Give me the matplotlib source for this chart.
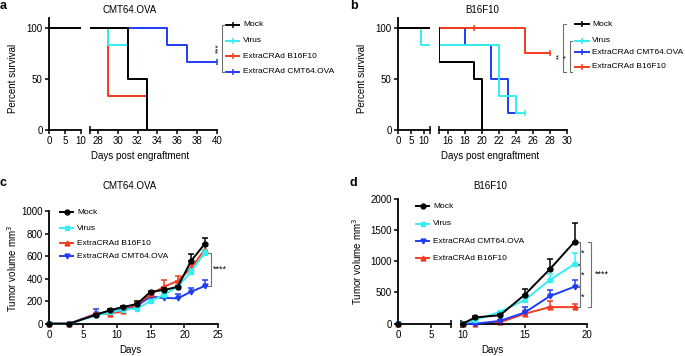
import numpy as np
import matplotlib
matplotlib.use("Agg")
import matplotlib.pyplot as plt

plt.rcParams["font.family"] = ["Liberation Sans", "DejaVu Sans"]
plt.rcParams["font.size"] = 7

W, H = 685, 356

BLACK = "#000000"
CYAN = "#33eef2"
RED = "#f53a1f"
BLUE = "#1f3cf5"
GRAY = "#707070"

# --- a: survival CMT64.OVA (step times, survival %) ---
a_mock_t = [0, 31, 33]
a_mock_s = [100, 50, 0]
a_mock_end = 33
a_virus_t = [0, 29, 31, 33]
a_virus_s = [100, 83.3, 50, 0]
a_virus_end = 33
a_b16_t = [0, 29, 33]
a_b16_s = [100, 33.3, 0]
a_b16_end = 33
a_cmt_t = [0, 35, 37]
a_cmt_s = [100, 83.3, 66.7]
a_cmt_end = 40

# --- b: survival B16F10 ---
b_mock_t = [0, 15, 19, 20]
b_mock_s = [100, 66.7, 50, 0]
b_mock_end = 20
b_virus_t = [0, 9, 22, 24]
b_virus_s = [100, 83.3, 33.3, 16.7]
b_virus_end = 25
b_cmt_t = [0, 18, 21, 23]
b_cmt_s = [100, 83.3, 50, 16.7]
b_cmt_end = 24
b_b16_t = [0, 25]
b_b16_s = [100, 75]
b_b16_end = 28
b_b16_censor = [19, 28]

# --- c: tumour volume CMT64.OVA ---
days_c = [0, 3, 7, 9, 11, 13, 15, 17, 19, 21, 23]
mock_c = [0, 0, 80, 120, 150, 175, 285, 300, 328, 560, 710]
mock_c_err = [0, 0, 10, 10, 10, 30, 10, 15, 10, 60, 55]
virus_c = [0, 0, 75, 100, 125, 135, 200, 258, 330, 463, 632]
virus_c_err = [0, 0, 10, 10, 10, 10, 15, 15, 15, 20, 20]
b16_c = [0, 0, 85, 90, 110, 170, 260, 330, 380, 495, 660]
b16_c_err = [0, 0, 10, 15, 20, 15, 20, 60, 45, 35, 50]
cmt_c = [0, 0, 90, 105, 130, 160, 240, 230, 225, 285, 335]
cmt_c_err = [0, 0, 38, 10, 10, 15, 15, 15, 40, 30, 55]

# --- d: tumour volume B16F10 ---
days_d = [0, 10, 11, 13, 15, 17, 19]
mock_d = [0, 0, 100, 135, 465, 870, 1310]
mock_d_err = [0, 0, 20, 20, 90, 170, 295]
virus_d = [0, 0, 60, 190, 380, 700, 955]
virus_d_err = [0, 0, 15, 20, 40, 90, 180]
cmt_d = [0, 0, 0, 45, 180, 440, 592]
cmt_d_err = [0, 0, 0, 15, 80, 100, 115]
b16_d = [0, 0, 0, 22, 160, 265, 265]
b16_d_err = [0, 0, 0, 10, 50, 95, 50]

fig = plt.figure(figsize=(W / 100, H / 100), dpi=100)


def px_axes(left, right, top, bottom):
    return fig.add_axes([left / W, 1 - bottom / H, (right - left) / W, (bottom - top) / H])


def style(ax, left_spine=True):
    for s in ["top", "right"]:
        ax.spines[s].set_visible(False)
    ax.spines["bottom"].set_linewidth(1.3)
    ax.spines["left"].set_linewidth(1.3)
    ax.tick_params(width=1.1, length=3, labelsize=7, pad=1.5)
    if not left_spine:
        ax.spines["left"].set_visible(False)
        ax.tick_params(axis="y", left=False, labelleft=False)
    ax.patch.set_alpha(0)


def breaks(ax, where):
    ax.set_xticks(where, minor=True)
    ax.tick_params(axis="x", which="minor", direction="inout", length=6, width=1.1)


def step_value(t, s, x):
    i = np.searchsorted(t, x, side="right") - 1
    return s[max(i, 0)]


def km(ax, t, s, end, color, z, censor=None):
    x = list(t) + [end]
    y = list(s) + [s[-1]]
    ax.step(x, y, where="post", color=color, lw=1.4, zorder=z)
    if censor is not None:
        ax.plot(censor, [step_value(t, s, c) for c in censor],
                ls="none", marker="|", ms=4, mew=1.1, color=color, zorder=z)


# overlay for text, legends
ov = fig.add_axes([0, 0, 1, 1])
ov.set_xlim(0, W)
ov.set_ylim(H, 0)
ov.axis("off")


def legend(x0, rows, entries, marker_kind):
    for y, (label, color, mk) in zip(rows, entries):
        ov.plot([x0, x0 + 13.5], [y, y], color=color, lw=1.4)
        if marker_kind == "tick":
            ov.plot([x0 + 6.75], [y], marker="|", ms=4, mew=1.1, color=color)
        else:
            ov.plot([x0 + 6.75], [y], marker=mk, ms=3.5, color=color)
        ov.text(x0 + 17, y, label, va="center", ha="left", fontsize=6.0)


# ---------------- panel a ----------------
a1 = px_axes(49, 81, 17.5, 129.7)
a2 = px_axes(90, 216.7, 17.5, 129.7)
for ax in (a1, a2):
    km(ax, a_cmt_t, a_cmt_s, a_cmt_end, BLUE, 2, censor=[40])
    km(ax, a_b16_t, a_b16_s, a_b16_end, RED, 3)
    km(ax, a_virus_t, a_virus_s, a_virus_end, CYAN, 4)
    km(ax, a_mock_t, a_mock_s, a_mock_end, BLACK, 5)
    ax.set_ylim(0, 110)
a1.set_xlim(0, 10)
a1.set_xticks([0, 5, 10])
a1.set_yticks([0, 50, 100])
breaks(a1, [10])
style(a1)
a2.set_xlim(27.2, 40)
a2.set_xticks(range(28, 41, 2))
breaks(a2, [27.2])
style(a2, left_spine=False)

ov.text(0, 6, "a", fontsize=9, fontweight="bold", va="center", ha="left")
ov.text(130, 10, "CMT64.OVA", ha="center", va="center", fontsize=7)
ov.text(13, 78, "Percent survival", rotation=90, ha="center", va="center", fontsize=7)
ov.text(140, 156, "Days post engraftment", ha="center", va="center", fontsize=7)
legend(226, [24.7, 41, 56, 71.5],
       [("Mock", BLACK, None), ("Virus", CYAN, None),
        ("ExtraCRAd B16F10", RED, None), ("ExtraCRAd CMT64.OVA", BLUE, None)], "tick")
ov.plot([225.5, 222.3, 222.3, 225.5], [24.7, 24.7, 71.5, 71.5], color=GRAY, lw=0.8)
ov.text(218.8, 48, "***", rotation=90, ha="center", va="center", fontsize=6)

# ---------------- panel b ----------------
b1 = px_axes(398, 430.1, 17.5, 129.7)
b2 = px_axes(439.05, 567.3, 17.5, 129.7)
for ax in (b1, b2):
    km(ax, b_cmt_t, b_cmt_s, b_cmt_end, BLUE, 2)
    km(ax, b_virus_t, b_virus_s, b_virus_end, CYAN, 3, censor=[25])
    km(ax, b_b16_t, b_b16_s, b_b16_end, RED, 4, censor=b_b16_censor)
    km(ax, b_mock_t, b_mock_s, b_mock_end, BLACK, 5)
    ax.set_ylim(0, 110)
b1.set_xlim(0, 12.5)
b1.set_xticks([0, 5, 10])
b1.set_yticks([0, 50, 100])
breaks(b1, [12.5])
style(b1)
b2.set_xlim(14.95, 30)
b2.set_xticks(range(16, 31, 2))
breaks(b2, [14.95])
style(b2, left_spine=False)

ov.text(350, 6, "b", fontsize=9, fontweight="bold", va="center", ha="left")
ov.text(482, 10, "B16F10", ha="center", va="center", fontsize=7)
ov.text(362, 78, "Percent survival", rotation=90, ha="center", va="center", fontsize=7)
ov.text(490, 156, "Days post engraftment", ha="center", va="center", fontsize=7)
legend(575.3, [24.3, 41, 52.3, 66.7],
       [("Mock", BLACK, None), ("Virus", CYAN, None),
        ("ExtraCRAd CMT64.OVA", BLUE, None), ("ExtraCRAd B16F10", RED, None)], "tick")
ov.plot([566, 563, 563, 566], [24.3, 24.3, 71.5, 71.5], color=GRAY, lw=0.8)
ov.plot([572.5, 569.7, 569.7, 572.5], [41, 41, 71.5, 71.5], color=GRAY, lw=0.8)
ov.text(560, 56, "**", rotation=90, ha="center", va="center", fontsize=5.5)
ov.text(567, 56, "*", rotation=90, ha="center", va="center", fontsize=5.5)


# ---------------- panel c ----------------
def growth(ax, days, mean, err, color, marker, z, mask=None):
    days = np.asarray(days)
    mean = np.asarray(mean, dtype=float)
    err = np.asarray(err, dtype=float)
    if mask is None:
        mask = np.ones(len(days), bool)
    ax.errorbar(days[mask], mean[mask], yerr=[np.zeros(mask.sum()), err[mask]],
                color=color, lw=1.4, marker=marker, ms=3.5, capsize=2.2,
                elinewidth=1.1, capthick=1.1, zorder=z, clip_on=False)


c = px_axes(49, 218.3, 211.3, 323.7)
growth(c, days_c, cmt_c, cmt_c_err, BLUE, "v", 2)
growth(c, days_c, b16_c, b16_c_err, RED, "^", 3)
growth(c, days_c, virus_c, virus_c_err, CYAN, "s", 4)
growth(c, days_c, mock_c, mock_c_err, BLACK, "o", 5)
c.set_xlim(0, 25)
c.set_ylim(0, 1000)
c.set_xticks(range(0, 26, 5))
c.set_yticks(range(0, 1001, 200))
style(c)
bx = 23.93
c.plot([bx - 0.4, bx, bx, bx - 0.4], [virus_c[-1], virus_c[-1], cmt_c[-1], cmt_c[-1]],
       color=GRAY, lw=0.8, clip_on=False)
c.text(bx + 0.25, (virus_c[-1] + cmt_c[-1]) / 2, "****", ha="left", va="center", fontsize=6.5)

ov.text(0, 183, "c", fontsize=9, fontweight="bold", va="center", ha="left")
ov.text(130, 186, "CMT64.OVA", ha="center", va="center", fontsize=7)
ov.text(12, 268, "Tumor volume mm$^3$", rotation=90, ha="center", va="center", fontsize=7)
ov.text(130, 350, "Days", ha="center", va="center", fontsize=7)
legend(60, [212.3, 228, 243.3, 256.3],
       [("Mock", BLACK, "o"), ("Virus", CYAN, "s"),
        ("ExtraCRAd B16F10", RED, "^"), ("ExtraCRAd CMT64.OVA", BLUE, "v")], "marker")

# ---------------- panel d ----------------
d1 = px_axes(398, 451.3, 198.7, 323.7)
d2 = px_axes(460.8, 587, 198.7, 323.7)
dd = np.asarray(days_d)
for ax, m in ((d1, dd <= 8), (d2, dd >= 9.85)):
    growth(ax, days_d, b16_d, b16_d_err, RED, "^", 2, m)
    growth(ax, days_d, cmt_d, cmt_d_err, BLUE, "v", 3, m)
    growth(ax, days_d, virus_d, virus_d_err, CYAN, "s", 4, m)
    growth(ax, days_d, mock_d, mock_d_err, BLACK, "o", 5, m)
    ax.set_ylim(0, 2000)
d1.set_xlim(0, 8)
d1.set_xticks([0, 5])
d1.set_yticks(range(0, 2001, 500))
breaks(d1, [8])
style(d1)
d2.set_xlim(9.85, 20)
d2.set_xticks([10, 15, 20])
breaks(d2, [9.85])
style(d2, left_spine=False)

last = [mock_d[-1], virus_d[-1], cmt_d[-1], b16_d[-1]]
ix, ox = 19.4, 20.35
for hi, lo in zip(last[:-1], last[1:]):
    d2.plot([ix - 0.25, ix, ix, ix - 0.25], [hi - 8, hi - 8, lo + 8, lo + 8],
            color=GRAY, lw=0.8, clip_on=False)
    d2.text(ix + 0.27, (hi + lo) / 2, "*", ha="center", va="center", fontsize=6.5)
d2.plot([ox - 0.25, ox, ox, ox - 0.25], [last[0], last[0], last[-1], last[-1]],
        color=GRAY, lw=0.8, clip_on=False)
d2.text(ox + 0.3, (last[0] + last[-1]) / 2, "****", ha="left", va="center", fontsize=6.5)

ov.text(350, 183, "d", fontsize=9, fontweight="bold", va="center", ha="left")
ov.text(490, 186, "B16F10", ha="center", va="center", fontsize=7)
ov.text(357, 261, "Tumor volume mm$^3$", rotation=90, ha="center", va="center", fontsize=7)
ov.text(492, 350, "Days", ha="center", va="center", fontsize=7)
legend(416, [206.3, 223.7, 241.3, 258],
       [("Mock", BLACK, "o"), ("Virus", CYAN, "s"),
        ("ExtraCRAd CMT64.OVA", BLUE, "v"), ("ExtraCRAd B16F10", RED, "^")], "marker")

fig.savefig("out.png", dpi=100)
